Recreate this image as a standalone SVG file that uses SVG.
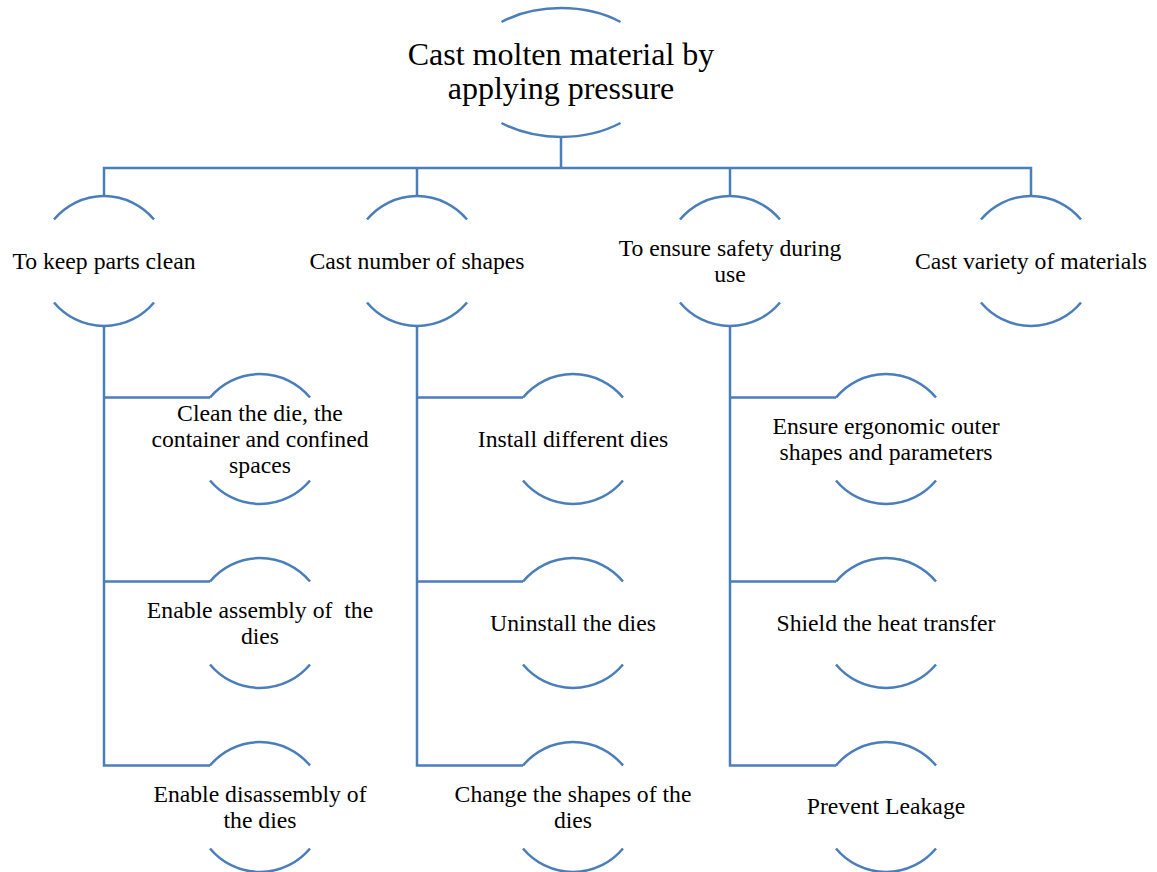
<svg xmlns="http://www.w3.org/2000/svg" xmlns:xlink="http://www.w3.org/1999/xlink" width="1157" height="872" viewBox="0 0 1157 872">
<style>
.ln{fill:none;stroke:#4A7EBB;stroke-width:2.5}
.t{font-family:"Liberation Serif","Times New Roman",serif;font-size:23.7px;fill:#000;text-anchor:middle}
.tt{font-family:"Liberation Serif","Times New Roman",serif;font-size:32px;fill:#000;text-anchor:middle}
</style>
<defs>
<path id="arc" class="ln" d="M-50 -41.5 A65 65 0 0 1 50 -41.5 M-50 41.5 A65 65 0 0 0 50 41.5"/>
</defs>
<rect width="1157" height="872" fill="#fff"/>
<g id="connectors" class="ln">
<path d="M561 137 V168"/>
<path d="M104 196 V168 H1031 V196"/>
<path d="M417 168 V196"/>
<path d="M730 168 V196"/>
<path d="M104 326 V765.5 H210 M104 397.5 H210 M104 581.5 H210"/>
<path d="M417 326 V765.5 H523 M417 397.5 H523 M417 581.5 H523"/>
<path d="M730 326 V765.5 H836 M730 397.5 H836 M730 581.5 H836"/>
</g>
<g id="root">
<path class="ln" d="M501.5 22 A96 64.5 0 0 1 620.5 22 M501.5 123 A96 64.5 0 0 0 620.5 123"/>
<text class="tt" x="561" y="65">Cast molten material by</text>
<text class="tt" x="561" y="99">applying pressure</text>
</g>
<g id="n-clean"><use xlink:href="#arc" x="104" y="261"/><text class="t" x="104" y="269">To keep parts clean</text></g>
<g id="n-shapes"><use xlink:href="#arc" x="417" y="261"/><text class="t" x="417" y="269">Cast number of shapes</text></g>
<g id="n-safety"><use xlink:href="#arc" x="730" y="261"/><text class="t" x="730" y="256">To ensure safety during</text><text class="t" x="730" y="282">use</text></g>
<g id="n-materials"><use xlink:href="#arc" x="1031" y="261"/><text class="t" x="1031" y="269">Cast variety of materials</text></g>

<g id="n-cleandie"><use xlink:href="#arc" x="260" y="439"/><text class="t" x="260" y="421">Clean the die, the</text><text class="t" x="260" y="447">container and confined</text><text class="t" x="260" y="473">spaces</text></g>
<g id="n-assembly"><use xlink:href="#arc" x="260" y="623"/><text class="t" x="260" y="618" style="white-space:pre">Enable assembly of  the</text><text class="t" x="260" y="644">dies</text></g>
<g id="n-disassembly"><use xlink:href="#arc" x="260" y="807"/><text class="t" x="260" y="802">Enable disassembly of</text><text class="t" x="260" y="828">the dies</text></g>

<g id="n-install"><use xlink:href="#arc" x="573" y="439"/><text class="t" x="573" y="447">Install different dies</text></g>
<g id="n-uninstall"><use xlink:href="#arc" x="573" y="623"/><text class="t" x="573" y="631">Uninstall the dies</text></g>
<g id="n-change"><use xlink:href="#arc" x="573" y="807"/><text class="t" x="573" y="802">Change the shapes of the</text><text class="t" x="573" y="828">dies</text></g>

<g id="n-ergonomic"><use xlink:href="#arc" x="886" y="439"/><text class="t" x="886" y="434">Ensure ergonomic outer</text><text class="t" x="886" y="460">shapes and parameters</text></g>
<g id="n-shield"><use xlink:href="#arc" x="886" y="623"/><text class="t" x="886" y="631">Shield the heat transfer</text></g>
<g id="n-leakage"><use xlink:href="#arc" x="886" y="807"/><text class="t" x="886" y="814">Prevent Leakage</text></g>
</svg>
